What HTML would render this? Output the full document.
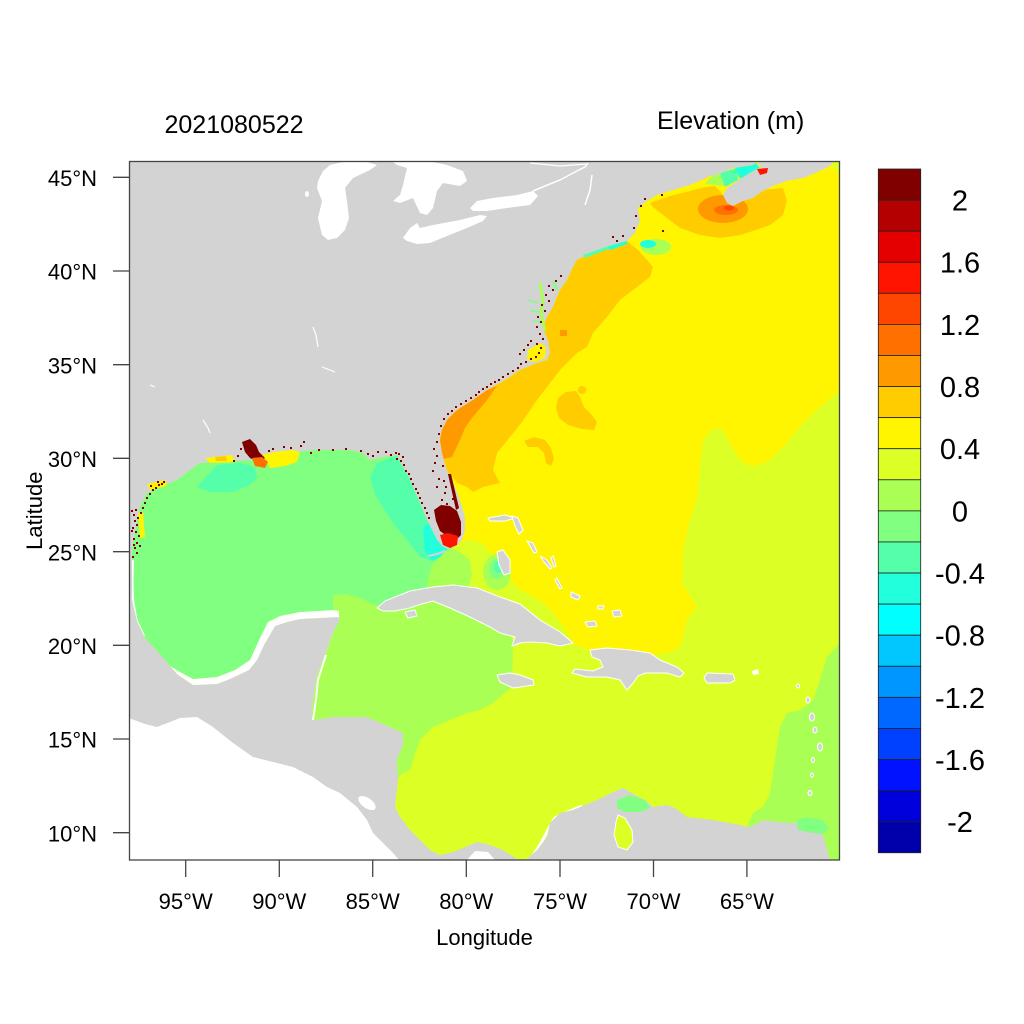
<!DOCTYPE html>
<html><head><meta charset="utf-8"><style>html,body{margin:0;padding:0;background:#fff}svg{display:block}</style></head>
<body>
<svg width="1024" height="1024" viewBox="0 0 1024 1024" xmlns="http://www.w3.org/2000/svg" font-family="'Liberation Sans', Arial, sans-serif">
<defs>
<clipPath id="plot"><rect x="129.5" y="161.5" width="710" height="698.5"/></clipPath>
<clipPath id="ocean"><path d="M834,161 L841,161 L841,861 L830,861 L827,848 L823,835 L815,826 L808,820 L793,823 L780,822 L763,820 L750,827 L740,825 L713,820 L687,817 L675,808 L667,805 L653,807 L645,800 L635,795 L623,788 L613,792 L597,800 L580,807 L573,810 L560,813 L550,823 L547,837 L537,850 L527,859 L517,859 L503,850 L490,845 L477,842 L463,848 L453,852 L440,855 L430,850 L420,840 L410,830 L400,817 L395,807 L398,780 L397,760 L403,745 L403,733 L390,727 L367,717 L333,717 L312,720 L313,700 L317,675 L327,650 L333,633 L340,620 L338,617 L300,619 L287,622 L275,626 L264,645 L257,660 L249,670 L230,679 L217,684 L193,685 L177,674 L160,654 L145,638 L137,621 L132,600 L132,573 L132,550 L136,527 L140,507 L147,493 L160,487 L177,480 L190,470 L200,463 L217,462 L253,460 L267,458 L293,452 L317,450 L350,450 L363,453 L370,460 L383,457 L397,455 L400,462 L403,467 L408,475 L413,487 L420,503 L427,520 L432,530 L437,540 L443,547 L450,549 L457,545 L462,540 L465,530 L465,517 L460,500 L455,487 L447,470 L442,453 L440,440 L442,430 L447,420 L457,410 L473,400 L487,390 L500,383 L510,377 L520,370 L537,363 L547,360 L550,353 L548,340 L545,333 L543,327 L547,317 L553,307 L557,297 L560,290 L567,280 L573,267 L577,260 L583,257 L600,250 L620,243 L627,241 L635,233 L640,221 L638,208 L647,201 L657,195 L670,191 L687,186 L700,181 L710,176 L717,175 L733,168 L753,165 L757,162 L761,167 L753,171 L737,181 L727,188 L723,195 L727,203 L733,206 L743,201 L753,198 L763,191 L773,186 L787,181 L803,178 L820,171 L830,166 Z"/></clipPath>
</defs>
<rect width="1024" height="1024" fill="#fff"/>

<g clip-path="url(#plot)">
<rect x="129" y="161" width="712" height="700" fill="#d3d3d3"/>
<!-- Pacific -->
<polygon fill="#fff" points="129,718 145,724 157,727 170,722 180,718 197,717 213,727 233,743 253,757 277,763 293,767 313,777 327,787 340,793 357,807 367,820 373,833 383,843 393,853 400,861 129,861"/>
<ellipse cx="367" cy="803" rx="10" ry="5" transform="rotate(35 367 803)" fill="#fff"/>
<polygon fill="#fff" points="466,861 475,851 488,852 496,861"/>
<!-- Great Lakes -->
<path fill="#fff" d="M330,165 L343,162 L367,162 L377,165 L370,170 L353,178 L345,188 L347,201 L349,218 L345,230 L337,238 L328,240 L322,235 L318,218 L322,201 L317,188 L318,181 L323,171 Z"/>
<path fill="#fff" d="M393,162 L433,162 L447,165 L463,171 L467,181 L460,186 L443,183 L437,191 L433,208 L427,215 L420,213 L413,198 L400,203 L393,201 L400,195 L403,185 L407,168 L397,165 Z"/>
<path fill="#fff" d="M403,238 L410,228 L417,223 L420,228 L433,225 L460,220 L480,215 L487,216 L483,221 L467,228 L447,236 L430,243 L417,244 L407,241 Z"/>
<path fill="#fff" d="M470,208 L477,201 L493,198 L517,195 L533,191 L538,196 L530,205 L507,208 L487,211 L473,211 Z"/>
<polyline fill="none" stroke="#fff" stroke-width="1.5" points="533,191 545,186 560,180 575,172 585,167 588,163"/>
<polyline fill="none" stroke="#fff" stroke-width="1.2" points="530,163 560,166 586,164"/>
<polyline fill="none" stroke="#fff" stroke-width="1.5" points="592,175 590,190 585,205"/>
<ellipse cx="307" cy="194" rx="2" ry="3" fill="#fff"/>
<polyline fill="none" stroke="#fff" stroke-width="1.2" points="313,327 316,335 318,347"/>
<polyline fill="none" stroke="#fff" stroke-width="1.2" points="322,367 335,372"/>
<polyline fill="none" stroke="#fff" stroke-width="1.2" points="203,420 208,428 210,433"/>
<polyline fill="none" stroke="#fff" stroke-width="1.2" points="150,385 155,387"/>

<!-- Ocean -->
<g clip-path="url(#ocean)">
<rect x="129" y="161" width="712" height="700" fill="#dcff26"/>
<path fill="#fff500" d="M600,161 L828,161 L841,176 L841,390 L820,407 L803,423 L787,443 L770,460 L753,467 L740,460 L730,443 L723,430 L713,428 L703,440 L700,467 L697,500 L690,520 L683,550 L682,583 L697,607 L687,620 L680,647 L667,653 L655,655 L620,650 L590,650 L575,645 L555,615 L540,600 L520,590 L505,575 L490,553 L483,543 L467,540 L453,547 L455,520 L440,480 L430,420 L430,400 Z"/>
<path fill="#aaff55" d="M300,590 L333,594 L350,593 L370,598 L385,604 L430,598 L470,605 L495,615 L513,640 L513,650 L512,687 L493,703 L480,710 L467,713 L433,727 L420,740 L413,760 L410,770 L403,773 L395,782 L300,782 Z"/>
<path fill="#aaff55" d="M420,545 L452,548 L460,552 L470,560 L472,575 L468,590 L420,600 Z"/>
<path fill="#aaff55" d="M850,640 L840,643 L827,657 L820,680 L813,700 L800,710 L787,713 L780,727 L777,747 L773,773 L770,793 L763,807 L753,813 L747,827 L740,870 L850,870 Z"/>
<ellipse cx="497" cy="572" rx="14" ry="18" fill="#aaff55"/>
<ellipse cx="497" cy="569" rx="8" ry="10" fill="#80ff80"/>
<ellipse cx="498" cy="567" rx="4" ry="6" fill="#55ffaa"/>
<path fill="#fff" d="M160,660 L180,672 L193,679 L217,677 L235,670 L250,660 L259,640 L268,622 L280,616 L300,612 L333,610 L339,611 L339,620 L333,633 L327,650 L317,675 L313,700 L150,700 Z"/>
<path fill="#80ff80" d="M100,440 L395,440 L440,500 L452,548 L440,556 L432,565 L428,580 L426,595 L410,600 L395,605 L380,607 L360,598 L345,594 L333,595 L333,610 L300,612 L280,616 L268,622 L259,640 L250,660 L235,670 L217,677 L193,679 L180,672 L160,660 L100,660 Z"/>
<polyline fill="none" stroke="#fff" stroke-width="2" points="133,560 132.5,580 133,600 136.5,620 144,636"/>
<path fill="#55ffaa" d="M197,487 L205,478 L217,465 L240,463 L255,467 L257,478 L250,485 L233,492 L210,492 Z"/>
<path fill="#55ffaa" d="M377,463 L390,458 L400,455 L420,470 L430,500 L440,540 L447,550 L440,557 L433,561 L420,557 L407,540 L393,523 L383,507 L375,495 L370,477 Z"/>
<path fill="#22ffdd" d="M423,527 L433,522 L445,545 L447,550 L440,557 L432,561 L425,552 Z"/>
<!-- shelf orange -->
<path fill="#ffcc00" d="M453,477 L457,483 L467,487 L473,492 L483,487 L500,483 L493,470 L497,453 L510,437 L522,422 L537,400 L547,387 L560,370 L577,353 L587,347 L593,333 L607,317 L620,300 L637,287 L650,277 L653,267 L647,260 L638,250 L627,241 L560,250 L500,340 L430,420 L440,470 Z"/>
<path fill="#ff9900" d="M430,420 L447,418 L460,408 L480,393 L497,386 L487,400 L472,418 L465,428 L460,440 L452,457 L440,460 Z"/>
<rect x="560" y="330" width="7" height="6" fill="#ff9900"/>
<path fill="#ffcc00" d="M650,203 L670,196 L690,191 L705,187 L715,186 L723,195 L760,190 L783,188 L787,201 L783,215 L770,225 L753,231 L740,235 L720,238 L700,235 L680,228 L667,218 L653,207 Z"/>
<ellipse cx="723" cy="209" rx="25" ry="14" fill="#ff9900"/>
<ellipse cx="726" cy="210" rx="12" ry="5" fill="#ff7000"/>
<ellipse cx="729" cy="208" rx="5" ry="2.5" fill="#ff4600"/>
<path fill="#ffcc00" d="M558,398 L566,392 L576,391 L580,397 L584,407 L591,414 L597,422 L594,430 L582,429 L568,425 L559,418 L556,408 Z"/>
<circle cx="582" cy="390" r="4" fill="#ffcc00"/>
<path fill="#ffcc00" d="M524,441 L534,437 L545,440 L551,448 L554,459 L551,466 L546,463 L544,453 L538,447 L528,447 Z"/>
<!-- Fundy -->
<polygon fill="#aaff55" points="705,184 712,176 722,172 725,186"/>
<polygon fill="#55ffaa" points="720,173 737,168 738,180 725,187"/>
<polygon fill="#22ffdd" points="735,168 756,163 760,168 740,179"/>
<ellipse cx="656" cy="247" rx="15" ry="8" fill="#aaff55"/>
<ellipse cx="648" cy="244" rx="8" ry="4" fill="#22ffdd"/>
<!-- white coast fringes -->
<polyline fill="none" stroke="#fff" stroke-width="3" points="530,860 540,845 548,830 555,818 570,811 582,806"/>
<polyline fill="none" stroke="#fff" stroke-width="2" points="313,720 316,700 318,680 326,655"/>
<polyline fill="none" stroke="#fff" stroke-width="1.5" points="333,718 367,718 388,727"/>
</g>

<!-- land-side water features -->
<polygon fill="#55ffaa" points="583,255 600,249 615,244 627,241 627,244 612,248 598,253 585,258"/>
<polygon fill="#22ffdd" points="608,247 627,241 627,244 610,250"/>
<polyline fill="none" stroke="#aaff55" stroke-width="3" points="540,283 543,300 541,315 545,330"/>
<polyline fill="none" stroke="#80ff80" stroke-width="1.5" points="528,300 538,303"/>
<polyline fill="none" stroke="#80ff80" stroke-width="1.5" points="530,311 540,312"/>
<polyline fill="none" stroke="#80ff80" stroke-width="1.5" points="533,321 542,322"/>
<polyline fill="none" stroke="#80ff80" stroke-width="2.5" points="553,281 557,290"/>
<polygon fill="#fff500" points="528,350 540,343 546,347 545,358 535,362 527,360"/>
<polygon fill="#ff1400" points="757,169 768,168 767,173 760,175"/>
<polygon fill="#80ff80" points="617,800 630,795 645,800 650,808 640,812 625,812 617,808"/>
<polygon fill="#dcff26" stroke="#fff" stroke-width="1" points="618,815 625,818 632,830 633,842 627,850 618,847 614,835 616,822"/>
<polygon fill="#80ff80" points="797,820 806,817 823,820 829,829 822,834 808,832 798,830"/>

<!-- islands -->
<g fill="#d3d3d3" stroke="#fff" stroke-width="1">
<polygon points="377,608 385,601 395,597 410,591 433,587 453,585 477,588 500,597 520,604 540,620 560,632 573,643 560,646 547,643 530,642 520,643 512,646 515,637 500,633 490,627 470,617 450,608 433,601 418,605 410,608 395,611 383,611"/>
<polygon points="405,612 415,610 417,616 408,618"/>
<polygon points="590,650 607,648 630,650 650,653 660,660 677,667 684,673 680,677 667,673 645,673 638,676 633,683 627,690 620,680 607,677 587,677 572,673 575,669 593,671 603,667 600,660 592,657"/>
<polygon points="497,675 510,673 520,675 533,680 534,685 520,687 513,688 500,682"/>
<polygon points="707,673 733,674 735,680 730,683 707,683 704,678"/>
<polygon points="488,518 505,515 515,518 505,521 490,521"/>
<polygon points="512,516 518,518 523,530 519,534 515,526"/>
<polygon points="497,552 503,550 510,560 510,573 504,575 499,565"/>
<polygon points="527,541 533,543 537,552 534,553 530,546"/>
<polygon points="540,556 547,560 552,568 550,569 544,562"/>
<polygon points="553,556 556,566 554,567 551,558"/>
<polygon points="557,578 562,588 560,589 555,580"/>
<polygon points="571,592 580,596 578,600 571,597"/>
<polygon points="585,622 595,621 597,626 588,627"/>
<polygon points="612,611 620,610 622,616 614,617"/>
<polygon points="598,606 604,606 603,609 598,609"/>
<ellipse cx="798" cy="686" rx="1.5" ry="2"/>
<ellipse cx="808" cy="700" rx="2" ry="3"/>
<ellipse cx="812" cy="717" rx="2.5" ry="4"/>
<ellipse cx="815" cy="730" rx="2" ry="3"/>
<ellipse cx="820" cy="747" rx="2.5" ry="4"/>
<ellipse cx="813" cy="760" rx="1.5" ry="2.5"/>
<ellipse cx="812" cy="775" rx="1.5" ry="2"/>
<ellipse cx="810" cy="793" rx="2" ry="2.5"/>
</g>
<polygon fill="#fff" points="752,671 758,669 759,674 753,675"/>
<polyline fill="none" stroke="#d3d3d3" stroke-width="2" points="428,556 437,554 446,551"/>

<!-- coastal fringe colors on land -->
<polygon fill="#fff500" points="262,455 275,452 292,450 300,452 297,462 285,466 270,468 266,460"/>
<polygon fill="#800000" points="242,442 250,439 256,445 259,452 265,458 258,462 250,458 245,452"/>
<polygon fill="#ff7000" points="252,458 262,457 268,462 265,468 255,466"/>
<polygon fill="#fff500" points="205,458 232,455 235,462 210,463"/>
<polygon fill="#ffcc00" points="215,457 226,456 227,461 216,461"/>
<polygon fill="#fff500" points="138,513 143,512 145,537 140,538"/>
<polygon fill="#fff500" points="147,484 165,480 167,486 150,490"/>
<polygon fill="#800000" points="434,510 441,505 450,506 457,511 461,522 461,535 456,540 447,536 440,531 436,521"/>
<polygon fill="#ff1400" points="440,535 448,533 458,536 457,545 450,548 443,545"/>
<polygon fill="#800000" points="448,474 451,474 459,508 456,510"/>
<path fill="#800000" d="M131,510h2v2h-2zM133,514h2v2h-2zM135,509h2v2h-2zM134,520h2v2h-2zM136,524h2v2h-2zM132,527h2v2h-2zM135,531h2v2h-2zM138,535h2v2h-2zM133,538h2v2h-2zM136,542h2v2h-2zM139,545h2v2h-2zM134,547h2v2h-2zM137,517h2v2h-2zM140,512h2v2h-2zM142,507h2v2h-2zM144,502h2v2h-2zM146,497h2v2h-2zM149,493h2v2h-2zM152,489h2v2h-2zM155,487h2v2h-2zM158,484h2v2h-2zM161,483h2v2h-2zM163,481h2v2h-2zM150,485h2v2h-2zM157,481h2v2h-2zM131,530h2v2h-2zM133,544h2v2h-2zM136,552h2v2h-2zM132,556h2v2h-2zM240,448h2v2h-2zM237,455h2v2h-2zM233,460h2v2h-2zM268,450h2v2h-2zM272,448h2v2h-2zM283,446h2v2h-2zM290,447h2v2h-2zM300,445h2v2h-2zM303,441h2v2h-2zM310,452h2v2h-2zM318,449h2v2h-2zM332,449h2v2h-2zM345,448h2v2h-2zM360,450h2v2h-2zM367,453h2v2h-2zM372,455h2v2h-2zM377,451h2v2h-2zM385,451h2v2h-2zM390,454h2v2h-2zM395,452h2v2h-2zM400,460h2v2h-2zM403,464h2v2h-2zM405,470h2v2h-2zM408,473h2v2h-2zM410,478h2v2h-2zM412,483h2v2h-2zM415,488h2v2h-2zM417,492h2v2h-2zM419,497h2v2h-2zM421,502h2v2h-2zM424,507h2v2h-2zM426,512h2v2h-2zM428,517h2v2h-2zM402,456h2v2h-2zM398,453h2v2h-2zM396,458h2v2h-2zM432,470h2v2h-2zM434,462h2v2h-2zM436,455h2v2h-2zM433,448h2v2h-2zM436,441h2v2h-2zM438,433h2v2h-2zM440,425h2v2h-2zM443,418h2v2h-2zM447,413h2v2h-2zM451,410h2v2h-2zM455,406h2v2h-2zM460,403h2v2h-2zM465,400h2v2h-2zM470,397h2v2h-2zM475,394h2v2h-2zM478,391h2v2h-2zM482,388h2v2h-2zM486,386h2v2h-2zM490,383h2v2h-2zM494,381h2v2h-2zM498,379h2v2h-2zM502,376h2v2h-2zM507,373h2v2h-2zM512,370h2v2h-2zM517,367h2v2h-2zM520,363h2v2h-2zM525,361h2v2h-2zM530,358h2v2h-2zM535,356h2v2h-2zM538,352h2v2h-2zM540,347h2v2h-2zM536,343h2v2h-2zM530,340h2v2h-2zM527,344h2v2h-2zM523,349h2v2h-2zM519,353h2v2h-2zM542,338h2v2h-2zM539,333h2v2h-2zM536,326h2v2h-2zM540,321h2v2h-2zM537,316h2v2h-2zM544,310h2v2h-2zM541,304h2v2h-2zM548,300h2v2h-2zM545,294h2v2h-2zM552,289h2v2h-2zM548,285h2v2h-2zM555,280h2v2h-2zM560,275h2v2h-2zM442,465h2v2h-2zM438,478h2v2h-2zM436,486h2v2h-2zM444,492h2v2h-2zM441,499h2v2h-2zM446,503h2v2h-2zM445,486h2v2h-2zM443,480h2v2h-2zM452,498h2v2h-2zM612,236h2v2h-2zM616,240h2v2h-2zM622,235h2v2h-2zM633,227h2v2h-2zM635,215h2v2h-2zM640,205h2v2h-2zM644,198h2v2h-2zM661,194h2v2h-2zM662,230h2v2h-2z"/>
</g>

<!-- frame -->
<rect x="129.5" y="161.5" width="710" height="698.5" fill="none" stroke="#444" stroke-width="1.3"/>
<g stroke="#444" stroke-width="1.3">
<line x1="113" y1="177.3" x2="129.5" y2="177.3"/>
<line x1="113" y1="271" x2="129.5" y2="271"/>
<line x1="113" y1="364.7" x2="129.5" y2="364.7"/>
<line x1="113" y1="458.3" x2="129.5" y2="458.3"/>
<line x1="113" y1="551.7" x2="129.5" y2="551.7"/>
<line x1="113" y1="645.3" x2="129.5" y2="645.3"/>
<line x1="113" y1="739" x2="129.5" y2="739"/>
<line x1="113" y1="832.7" x2="129.5" y2="832.7"/>
<line x1="185.7" y1="860" x2="185.7" y2="877"/>
<line x1="279.3" y1="860" x2="279.3" y2="877"/>
<line x1="372.7" y1="860" x2="372.7" y2="877"/>
<line x1="466.3" y1="860" x2="466.3" y2="877"/>
<line x1="560" y1="860" x2="560" y2="877"/>
<line x1="653.5" y1="860" x2="653.5" y2="877"/>
<line x1="746.9" y1="860" x2="746.9" y2="877"/>
</g>
<g font-size="22" fill="#000" text-anchor="end">
<text x="97" y="186">45°N</text>
<text x="97" y="279.7">40°N</text>
<text x="97" y="373.4">35°N</text>
<text x="97" y="467">30°N</text>
<text x="97" y="560.4">25°N</text>
<text x="97" y="654">20°N</text>
<text x="97" y="747.7">15°N</text>
<text x="97" y="841.4">10°N</text>
</g>
<g font-size="22" fill="#000" text-anchor="middle">
<text x="185.7" y="909">95°W</text>
<text x="279.3" y="909">90°W</text>
<text x="372.7" y="909">85°W</text>
<text x="466.3" y="909">80°W</text>
<text x="560" y="909">75°W</text>
<text x="653.5" y="909">70°W</text>
<text x="746.9" y="909">65°W</text>
<text x="484.5" y="945">Longitude</text>
<text transform="translate(42,510.7) rotate(-90)" x="0" y="0">Latitude</text>
</g>
<text x="164.5" y="133" font-size="25" fill="#000">2021080522</text>
<text x="657" y="129" font-size="25" fill="#000">Elevation (m)</text>

<!-- colorbar -->
<g stroke="#222" stroke-width="0.8">
<rect x="878.3" y="169" width="42.4" height="31.08" fill="#800000"/>
<rect x="878.3" y="200.08" width="42.4" height="31.08" fill="#b40000"/>
<rect x="878.3" y="231.16" width="42.4" height="31.08" fill="#e40000"/>
<rect x="878.3" y="262.24" width="42.4" height="31.08" fill="#ff1400"/>
<rect x="878.3" y="293.32" width="42.4" height="31.08" fill="#ff4600"/>
<rect x="878.3" y="324.4" width="42.4" height="31.08" fill="#ff7000"/>
<rect x="878.3" y="355.48" width="42.4" height="31.08" fill="#ff9900"/>
<rect x="878.3" y="386.56" width="42.4" height="31.08" fill="#ffcc00"/>
<rect x="878.3" y="417.64" width="42.4" height="31.08" fill="#fff500"/>
<rect x="878.3" y="448.72" width="42.4" height="31.08" fill="#dcff26"/>
<rect x="878.3" y="479.8" width="42.4" height="31.08" fill="#aaff55"/>
<rect x="878.3" y="510.88" width="42.4" height="31.08" fill="#80ff80"/>
<rect x="878.3" y="541.96" width="42.4" height="31.08" fill="#55ffaa"/>
<rect x="878.3" y="573.04" width="42.4" height="31.08" fill="#22ffdd"/>
<rect x="878.3" y="604.12" width="42.4" height="31.08" fill="#00ffff"/>
<rect x="878.3" y="635.2" width="42.4" height="31.08" fill="#00c8ff"/>
<rect x="878.3" y="666.28" width="42.4" height="31.08" fill="#0096ff"/>
<rect x="878.3" y="697.36" width="42.4" height="31.08" fill="#0068ff"/>
<rect x="878.3" y="728.44" width="42.4" height="31.08" fill="#0040ff"/>
<rect x="878.3" y="759.52" width="42.4" height="31.08" fill="#0012ff"/>
<rect x="878.3" y="790.6" width="42.4" height="31.08" fill="#0000dc"/>
<rect x="878.3" y="821.68" width="42.4" height="31.08" fill="#0000aa"/>
</g>
<g font-size="29" fill="#000" text-anchor="middle">
<text x="960" y="210.6">2</text>
<text x="960" y="272.7">1.6</text>
<text x="960" y="334.9">1.2</text>
<text x="960" y="397.1">0.8</text>
<text x="960" y="459.2">0.4</text>
<text x="960" y="521.4">0</text>
<text x="960" y="583.5">-0.4</text>
<text x="960" y="645.7">-0.8</text>
<text x="960" y="707.9">-1.2</text>
<text x="960" y="770">-1.6</text>
<text x="960" y="832.2">-2</text>
</g>
</svg>
</body></html>
